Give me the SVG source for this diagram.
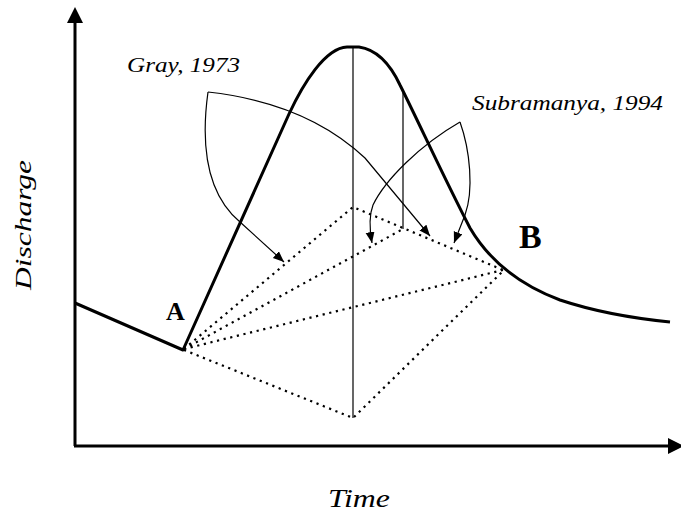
<svg xmlns="http://www.w3.org/2000/svg" width="681" height="514" viewBox="0 0 681 514">
  <style>
    .axis { stroke: #000; stroke-width: 3; fill: none; }
    .hydro { stroke: #000; stroke-width: 3; fill: none; stroke-linejoin: round; }
    .thin { stroke: #000; stroke-width: 1.2; fill: none; }
    .dot { stroke: #000; stroke-width: 2.2; fill: none; stroke-dasharray: 2.2 4.6; }
    .ref { font-family: "Liberation Serif", serif; font-style: italic; fill: #000; }
    .pt { font-family: "Liberation Serif", serif; font-weight: bold; fill: #000; }
  </style>
  <defs>
    <marker id="ah" markerUnits="userSpaceOnUse" markerWidth="12" markerHeight="10" refX="11" refY="4.5" orient="auto">
      <path d="M0,0 L11,4.5 L0,9 z" fill="#000"/>
    </marker>
  </defs>
  <rect width="681" height="514" fill="#fff"/>

  <g id="axes">
    <line class="axis" x1="75" y1="446" x2="75" y2="20"/>
    <polygon points="75,7 67,23 83,23" fill="#000"/>
    <line class="axis" x1="74" y1="446" x2="670" y2="446"/>
    <polygon points="684,446 668,438 668,454" fill="#000"/>
  </g>

  <g id="hydrograph">
    <path class="hydro" d="M75,303 L183,350 L289,114 C303,84 325,48 347,47 L359,47 C380,50 392,68 400,85 C420,125 445,180 470,228 C490,262 520,285 560,300 C590,310 630,318 670,322"/>
  </g>

  <g id="verticals">
    <line class="thin" x1="353" y1="47" x2="353" y2="418"/>
    <line class="thin" x1="403" y1="93" x2="403" y2="229"/>
  </g>

  <g id="connectors">
    <path class="dot" d="M184,349 L353,207 L503,270"/>
    <path class="dot" d="M184,349 L403,229"/>
    <path class="dot" d="M184,349 L503,270"/>
    <path class="dot" d="M184,350 L353,418 L503,271"/>
    <path class="thin" marker-end="url(#ah)" d="M208,92 C280,100 330,125 365,158 L430,236"/>
    <path class="thin" marker-end="url(#ah)" d="M208,92 C200,150 208,195 240,222 L284,262"/>
    <path class="thin" marker-end="url(#ah)" d="M460,122 C420,145 385,180 373,205 C368,218 370,232 372,243"/>
    <path class="thin" marker-end="url(#ah)" d="M460,122 C470,150 474,190 465,215 L454,243"/>
  </g>

  <g id="labels">
    <text class="ref" x="127" y="72" font-size="21" textLength="113" lengthAdjust="spacingAndGlyphs">Gray, 1973</text>
    <text class="ref" x="472" y="110" font-size="21" textLength="191" lengthAdjust="spacingAndGlyphs">Subramanya, 1994</text>
    <text class="ref" transform="translate(31,290) rotate(-90)" font-size="23" textLength="130" lengthAdjust="spacingAndGlyphs">Discharge</text>
    <text class="ref" x="328" y="507" font-size="25" textLength="62" lengthAdjust="spacingAndGlyphs">Time</text>
    <text class="pt" x="166" y="320" font-size="26">A</text>
    <text class="pt" x="519" y="248" font-size="34">B</text>
  </g>
</svg>
